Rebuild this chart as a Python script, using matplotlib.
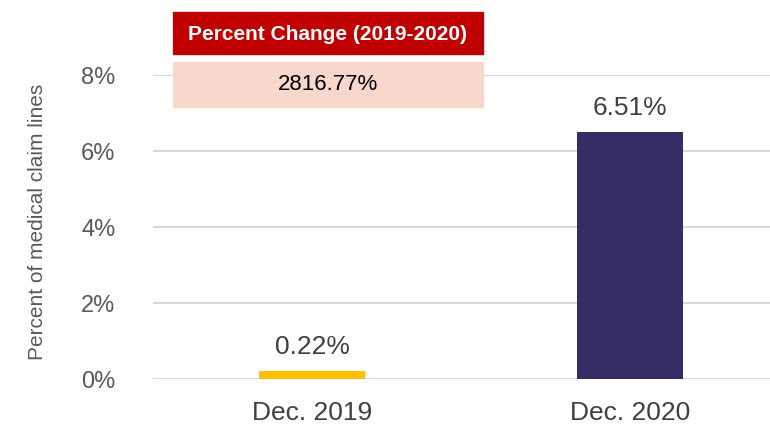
import matplotlib
matplotlib.use('Agg')

import matplotlib.pyplot as plt
from matplotlib.patches import Rectangle

categories = ["Dec. 2019", "Dec. 2020"]
values = [0.22, 6.51]
bar_colors = ["#FFC000", "#372C63"]
yticks = [0, 2, 4, 6, 8]
change_title = "Percent Change (2019-2020)"
change_value = "2816.77%"

narrow = ["Liberation Sans Narrow", "Liberation Sans", "DejaVu Sans"]

fig = plt.figure(figsize=(7.7, 4.3), dpi=100)
ax = fig.add_axes([153/770, 51/430, 636/770, 304/430])

ax.bar(range(len(categories)), values, width=0.335, color=bar_colors, zorder=3)
for i, v in enumerate(values):
    ax.text(i, v + 0.3, f"{v:.2f}%", ha="center", va="bottom",
            fontsize=19, color="#404040", family=narrow)

ax.set_xlim(-0.5, 1.5)
ax.set_ylim(0, 8)
ax.set_yticks(yticks)
ax.set_yticklabels([f"{t}%" for t in yticks], family=narrow, fontsize=17, color="#595959")
ax.set_xticks(range(len(categories)))
ax.set_xticklabels(categories, family=narrow, fontsize=19, color="#404040")
ax.tick_params(axis="y", length=0, pad=27)
ax.tick_params(axis="x", length=0, pad=16)
ax.grid(axis="y", color="#D9D9D9", linewidth=1.5, zorder=0)
for s in ax.spines.values():
    s.set_visible(False)

fig.text(38/770, 1 - 222/430, "Percent of medical claim lines", rotation=90,
         ha="center", va="center", fontsize=15, color="#595959", family=narrow)

# percent change boxes
fig.patches.append(Rectangle((173/770, 1 - 54/430), 310/770, 42/430,
                             transform=fig.transFigure, color="#C00000", zorder=5))
fig.patches.append(Rectangle((173/770, 1 - 107/430), 310/770, 45/430,
                             transform=fig.transFigure, color="#F8D7CD", zorder=5))
fig.text(328/770, 1 - 34/430, change_title, ha="center", va="center",
         fontsize=15, fontweight="bold", color="white", family=narrow, zorder=6)
fig.text(328/770, 1 - 85/430, change_value, ha="center", va="center",
         fontsize=16, color="black", family=narrow, zorder=6)

fig.savefig("out.png", dpi=100)
